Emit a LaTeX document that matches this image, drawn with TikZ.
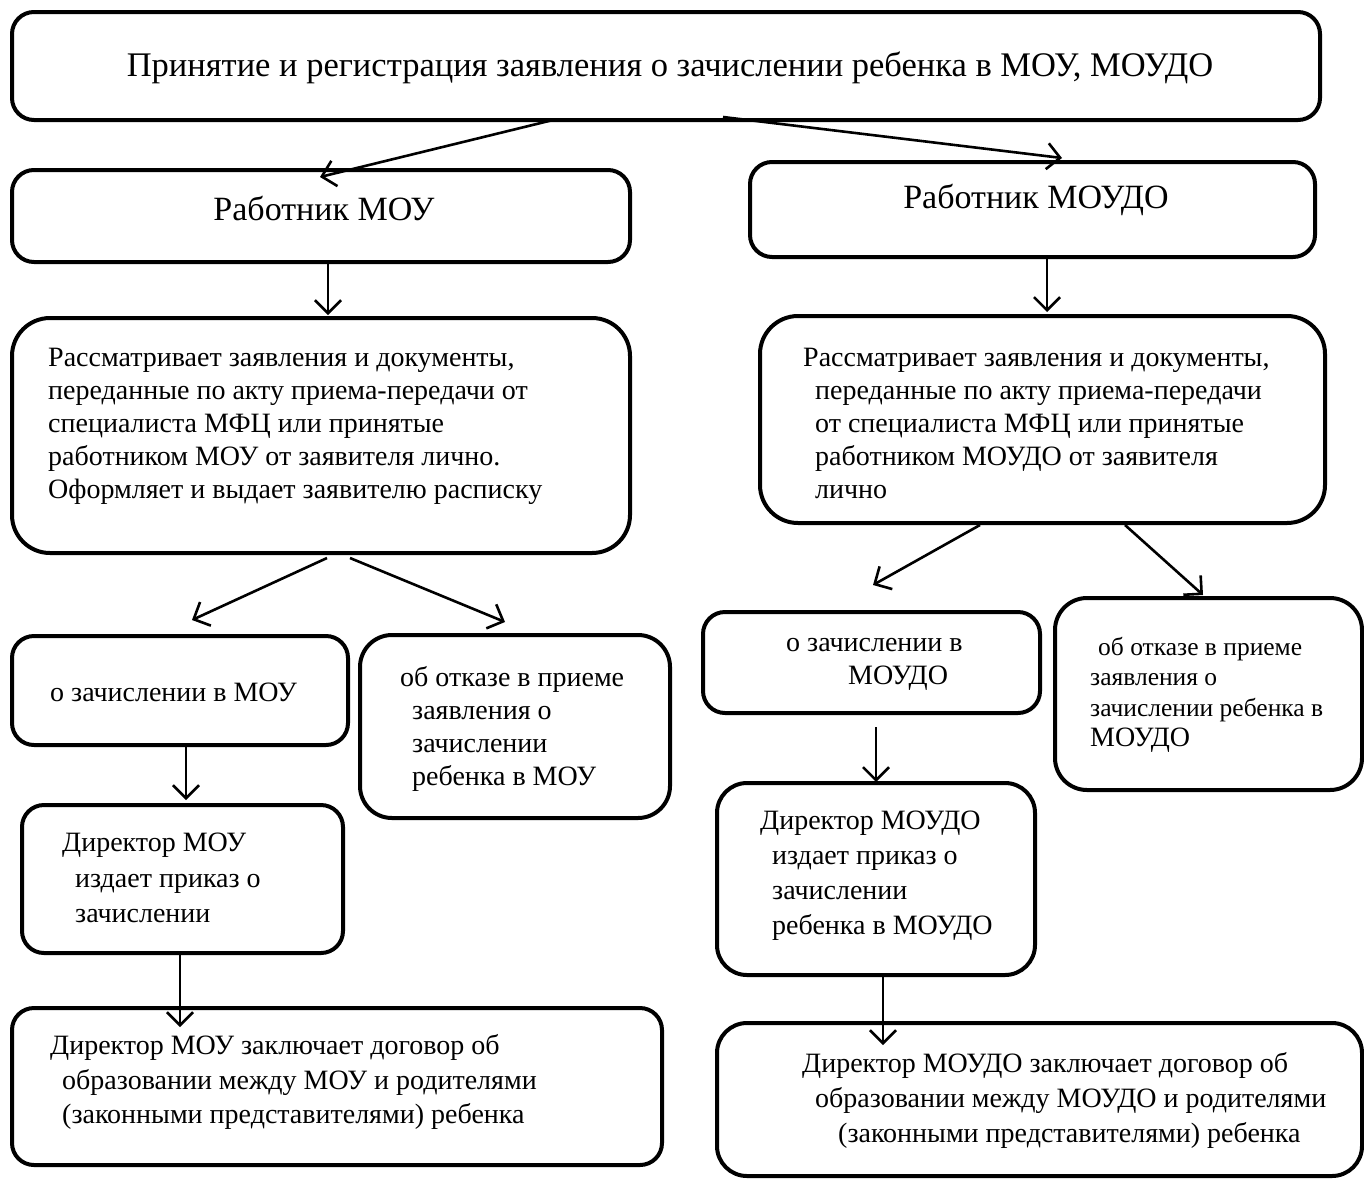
\documentclass[tikz,border=0pt]{standalone}
\usepackage{fontspec}
\setmainfont{Liberation Serif}
\usetikzlibrary{arrows.meta}
\begin{document}
\begin{tikzpicture}[x=1pt,y=-1pt,
  box/.style={draw, line width=4pt, rounded corners=#1, inner sep=0pt, outer sep=0pt},
  box/.default=22pt,
  txt/.style={anchor=west, inner sep=0pt, align=left, font=\fontsize{28}{33}\selectfont},
  conn/.style={line width=2.6pt, -{Straight Barb[length=13pt,width=26pt,line width=2.6pt]}}
]
\useasboundingbox (0,0) rectangle (1364,1178);
% boxes
\node[box, minimum width=1308, minimum height=108] (title) at (666,66) {};
\node[box, minimum width=618, minimum height=92] (wmou) at (321,216) {};
\node[box, minimum width=565, minimum height=95] (wmoudo) at (1032.5,209.5) {};
\node[box=38pt, minimum width=618, minimum height=235] (rl) at (321,435.5) {};
\node[box=38pt, minimum width=565, minimum height=207] (rr) at (1042.5,419.5) {};
\node[box, minimum width=336, minimum height=109] (zl) at (180,690.5) {};
\node[box=32pt, minimum width=310, minimum height=183] (ol) at (515,726.5) {};
\node[box, minimum width=337, minimum height=101] (zr) at (871.5,662.5) {};
\node[box=32pt, minimum width=307, minimum height=192] (orr) at (1208.5,694) {};
\node[box, minimum width=321, minimum height=148] (dl) at (182.5,879) {};
\node[box=30pt, minimum width=318, minimum height=192] (dr) at (876,879) {};
\node[box, minimum width=650, minimum height=157] (bl) at (337,1086.5) {};
\node[box=30pt, minimum width=645, minimum height=153] (br) at (1039.5,1099.5) {};

% texts
\node[anchor=center, inner sep=0pt, font=\fontsize{34.5}{40}\selectfont] (ttitle) at (670,68) {Принятие и регистрация заявления о зачислении ребенка в МОУ, МОУДО};
\node[anchor=center, inner sep=0pt, font=\fontsize{34}{40}\selectfont] (twmou) at (324,208) {Работник МОУ};
\node[anchor=center, inner sep=0pt, font=\fontsize{34}{40}\selectfont] (twmoudo) at (1036,200) {Работник МОУДО};

\node[txt] (trl) at (48,426) {Рассматривает заявления и документы,\\
переданные по акту приема-передачи от\\
специалиста МФЦ или принятые\\
работником МОУ от заявителя лично.\\
Оформляет и выдает заявителю расписку};
\node[txt] (trr) at (803,423) {Рассматривает заявления и документы,\\
\hspace*{12pt}переданные по акту приема-передачи\\
\hspace*{12pt}от специалиста МФЦ или принятые\\
\hspace*{12pt}работником МОУДО от заявителя\\
\hspace*{12pt}лично};
\node[txt] (tzl) at (50,692) {о зачислении в МОУ};
\node[txt] (tol) at (400,729) {об отказе в приеме\\
\hspace*{12pt}заявления о\\
\hspace*{12pt}зачислении\\
\hspace*{12pt}ребенка в МОУ};
\node[txt] (tzr) at (786,664) {о зачислении в\\
\hspace*{62pt}МОУДО};
\node[txt, font=\fontsize{25.5}{30.5}\selectfont] (tor) at (1090,695) {\hspace*{8pt}об отказе в приеме\\
заявления о\\
зачислении ребенка в\\
{\fontsize{28}{30}\selectfont МОУДО}};
\node[txt, font=\fontsize{28}{35.5}\selectfont] (tdl) at (62,878) {Директор МОУ\\
\hspace*{13pt}издает приказ о\\
\hspace*{13pt}зачислении};
\node[txt, font=\fontsize{28}{35}\selectfont] (tdr) at (760,876) {Директор МОУДО\\
\hspace*{12pt}издает приказ о\\
\hspace*{12pt}зачислении\\
\hspace*{12pt}ребенка в МОУДО};
\node[txt, font=\fontsize{28}{34.5}\selectfont] (tbl) at (50,1082) {Директор МОУ заключает договор об\\
\hspace*{12pt}образовании между МОУ и родителями\\
\hspace*{12pt}(законными представителями) ребенка};
\node[txt, font=\fontsize{28}{35}\selectfont] (tbr) at (802,1100) {Директор МОУДО заключает договор об\\
\hspace*{13pt}образовании между МОУДО и родителями\\
\hspace*{36pt}(законными представителями) ребенка};

% connector end points
\coordinate (s1) at (553,120); \coordinate (e1) at (320,177);
\coordinate (s2) at (723,117); \coordinate (e2) at (1062,158);
\coordinate (e3) at (328,315);
\coordinate (e4) at (1047,312);
\coordinate (s5) at (327,558); \coordinate (e5) at (192,620);
\coordinate (s6) at (350,558); \coordinate (e6) at (505,622);
\coordinate (s7) at (980,525); \coordinate (e7) at (873,585);
\coordinate (s8) at (1125,525); \coordinate (e8) at (1203,595);
\coordinate (e9) at (186,800);
\coordinate (e10) at (180,1027);
\coordinate (s11) at (876,727); \coordinate (e11) at (876,782);
\coordinate (e12) at (883,1045);

\draw[conn] (s1) -- (e1);
\draw[conn] (s2) -- (e2);
\draw[conn] (wmou.south -| e3) -- (e3);
\draw[conn] (wmoudo.south -| e4) -- (e4);
\draw[conn] (s5) -- (e5);
\draw[conn] (s6) -- (e6);
\draw[conn] (s7) -- (e7);
\draw[conn] (s8) -- (e8);
\draw[conn] (zl.south -| e9) -- (e9);
\draw[conn] (dl.south -| e10) -- (e10);
\draw[conn] (s11) -- (e11);
\draw[conn] (dr.south -| e12) -- (e12);
\end{tikzpicture}
\end{document}
